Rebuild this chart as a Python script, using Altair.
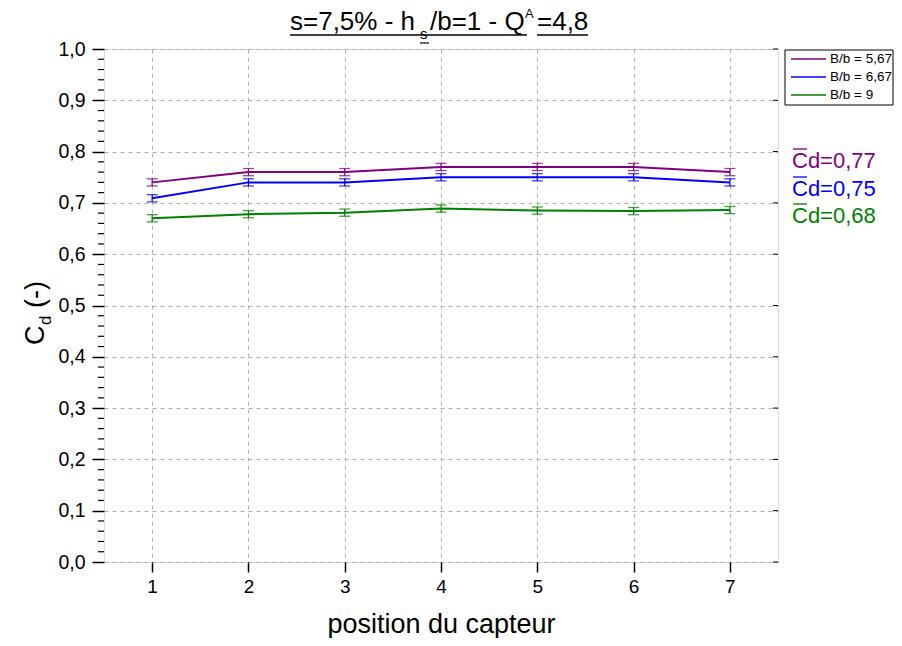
import altair as alt
import pandas as pd

# ---------------- data ----------------
positions = [1, 2, 3, 4, 5, 6, 7]
series_names = ["B/b = 5,67", "B/b = 6,67", "B/b = 9"]
series_colors = ["#800080", "#0000FF", "#008000"]
cd_567 = [0.740, 0.760, 0.760, 0.770, 0.770, 0.770, 0.760]
cd_667 = [0.709, 0.740, 0.740, 0.750, 0.750, 0.750, 0.740]
cd_9 = [0.670, 0.678, 0.681, 0.689, 0.685, 0.684, 0.686]
err_567 = [0.007] * 7
err_667 = [0.007] * 7
err_9 = [0.007] * 7
mean_labels = ["Cd=0,77", "Cd=0,75", "Cd=0,68"]
y_major = [round(i * 0.1, 1) for i in range(11)]
y_minor = [round(i * 0.02, 2) for i in range(51) if i % 5 != 0]
title_main = ["s=7,5% - h", "/b=1 - Q", "=4,8"]
title_sub = "s"
title_sup = "A"
ytitle_parts = ["C", "d", "(-)"]
xtitle = "position du capteur"

FONT = "Liberation Sans"

rows = []
for name, vals, errs in zip(series_names, [cd_567, cd_667, cd_9], [err_567, err_667, err_9]):
    for p, v, e in zip(positions, vals, errs):
        rows.append({"serie": name, "pos": p, "cd": v, "lo": v - e, "hi": v + e})
df = pd.DataFrame(rows)

W, H = 674, 513

xscale = alt.Scale(domain=[0.5, 7.5], nice=False, zero=False)
yscale = alt.Scale(domain=[0, 1], nice=False)
cscale = alt.Scale(domain=series_names, range=series_colors)

xaxis = alt.Axis(values=positions, format="d", title=xtitle, grid=True, gridDash=[4, 4], gridColor="#b0b0b0",
                 tickSize=10, tickColor="black", tickWidth=1.5, labelFontSize=19, labelFont=FONT,
                 labelColor="black", labelPadding=5, domain=False, titleFont=FONT, titleFontSize=27,
                 titleFontWeight="normal", titleColor="black", titleY=70, titleBaseline="alphabetic")
yaxis = alt.Axis(values=y_major, title=None, grid=True, gridDash=[4, 4], gridColor="#b0b0b0",
                 tickSize=12, tickColor="black", tickWidth=1.5, labelFontSize=19.5, labelFont=FONT,
                 labelColor="black", labelPadding=7, domain=False,
                 labelExpr="replace(format(datum.value, '.1f'), '.', ',')")

base = alt.Chart(df)

lines = base.mark_line(strokeWidth=2).encode(
    x=alt.X("pos:Q", scale=xscale, axis=xaxis),
    y=alt.Y("cd:Q", scale=yscale, axis=yaxis),
    color=alt.Color("serie:N", scale=cscale, sort=series_names, legend=None),
)

err_rule = base.mark_rule(strokeWidth=1.2).encode(
    x="pos:Q", y="lo:Q", y2="hi:Q",
    color=alt.Color("serie:N", scale=cscale, legend=None),
)
cap_lo = base.mark_tick(orient="horizontal", size=11, thickness=1.3, opacity=0.75).encode(
    x="pos:Q", y="lo:Q", color=alt.Color("serie:N", scale=cscale, legend=None))
cap_hi = base.mark_tick(orient="horizontal", size=11, thickness=1.3, opacity=0.75).encode(
    x="pos:Q", y="hi:Q", color=alt.Color("serie:N", scale=cscale, legend=None))

minor = alt.Chart(pd.DataFrame({"v": y_minor})).mark_rule(color="black", strokeWidth=1.2).encode(
    y="v:Q", x=alt.value(-6), x2=alt.value(0))
right_ticks = alt.Chart(pd.DataFrame({"v": y_major})).mark_rule(color="black", strokeWidth=1).encode(
    y="v:Q", x=alt.value(W - 5), x2=alt.value(W))

layers = [lines, err_rule, cap_lo, cap_hi, minor, right_ticks]

def txt(s, x, y, size, color="black", angle=0, align="left", baseline="alphabetic"):
    return alt.Chart(pd.DataFrame({"t": [s]})).mark_text(
        font=FONT, fontSize=size, color=color, angle=angle, align=align, baseline=baseline
    ).encode(text="t:N", x=alt.value(x), y=alt.value(y))

def hline(x1, x2, y, color="black", w=1.5):
    return alt.Chart(pd.DataFrame({"a": [0]})).mark_rule(color=color, strokeWidth=w).encode(
        x=alt.value(x1), x2=alt.value(x2), y=alt.value(y))

# title
layers += [
    txt(title_main[0], 186, -19, 26),
    txt(title_sub, 316, -10, 15),
    txt(title_main[1], 326, -19, 26),
    txt(title_sup, 421, -31, 13),
    txt(title_main[2], 433, -19, 26),
    hline(186, 423, -14), hline(433, 484, -14), hline(316, 325, -6, w=1.2),
]

# y axis title (rotated, with subscript)
layers += [
    txt(ytitle_parts[0], -60, 296, 27, angle=270),
    txt(ytitle_parts[1], -53, 276, 17, angle=270),
    txt(ytitle_parts[2], -60, 259, 27, angle=270),
]

# legend (drawn by hand so the rows stay compact)
layers.append(
    alt.Chart(pd.DataFrame({"a": [0]})).mark_rect(fill="white", stroke="black", strokeWidth=1).encode(
        x=alt.value(681), x2=alt.value(789), y=alt.value(1), y2=alt.value(56))
)
leg_y = [10, 28, 46]
for name, col, yy in zip(series_names, series_colors, leg_y):
    layers.append(hline(687, 722, yy, color=col, w=1.6))
    layers.append(txt(name, 726, yy, 13.5, baseline="middle"))

# mean annotations
ann_y = [119, 147, 174]
for lab, col, yy in zip(mean_labels, series_colors, ann_y):
    layers.append(txt(lab, 688, yy, 22, color=col))
    layers.append(hline(689, 703, yy - 19, color=col, w=1.3))

chart = alt.layer(*layers).properties(
    width=W, height=H,
    autosize=alt.AutoSizeParams(type="none"),
    padding={"left": 96, "top": 41, "right": 116, "bottom": 76},
).configure_view(stroke="black", strokeWidth=2).configure(background="white")

chart.save("out.html", embed_options={"renderer": "svg", "actions": False})
